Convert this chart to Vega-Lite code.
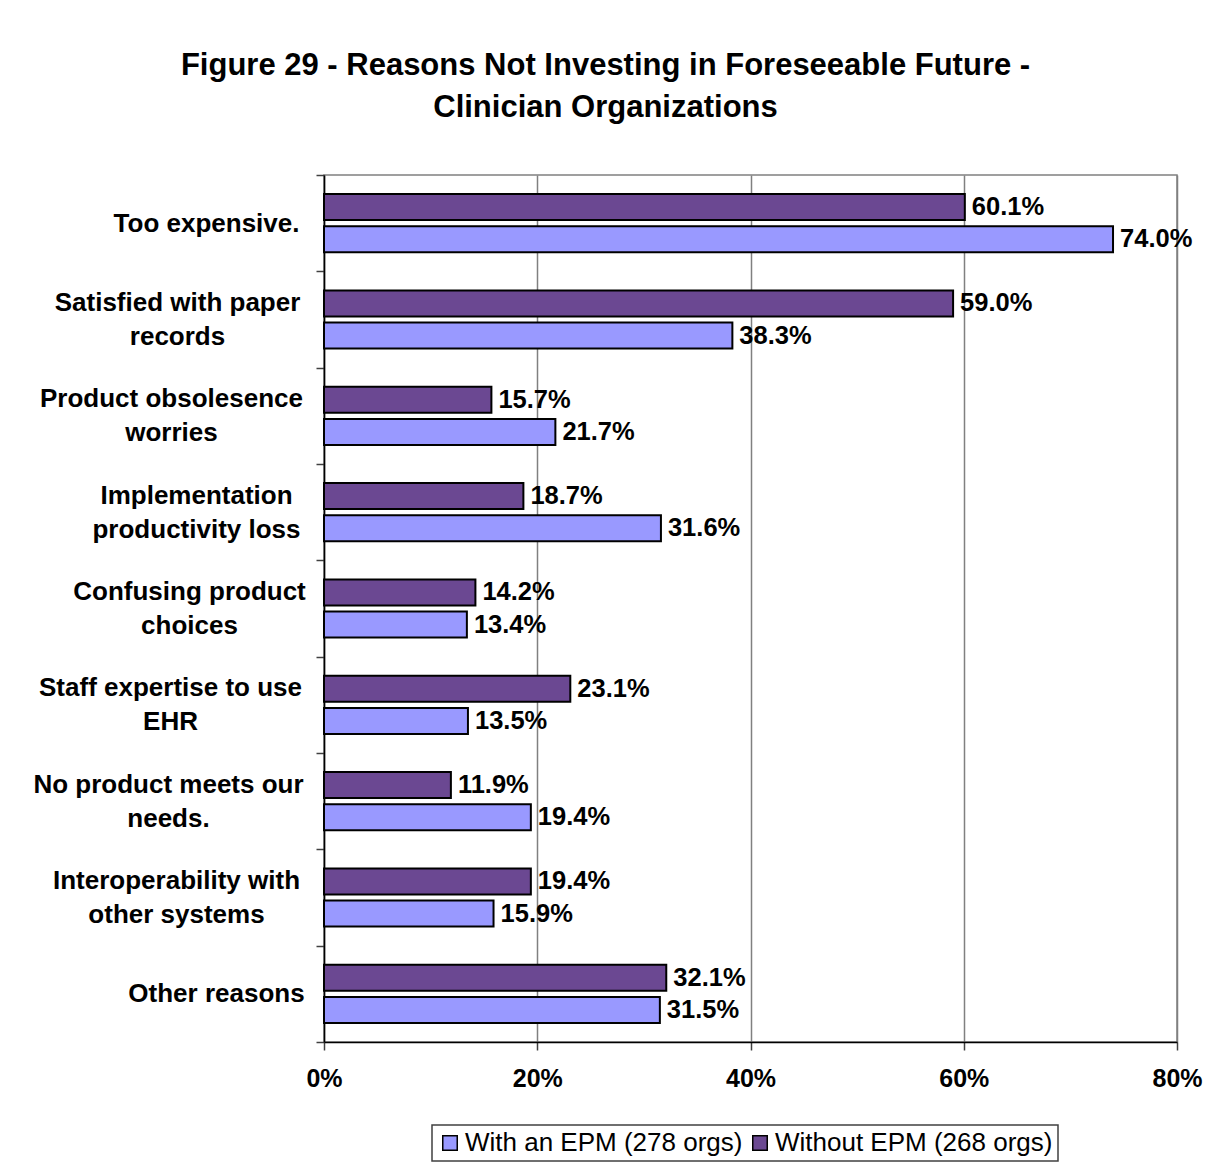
{
  "$schema": "https://vega.github.io/schema/vega-lite/v6.json",
  "autosize": "none",
  "width": 853,
  "height": 867,
  "padding": {"left": 324, "top": 175, "right": 40, "bottom": 131},
  "background": "white",
  "title": {
    "text": ["Figure 29 - Reasons Not Investing in Foreseeable Future -", "Clinician Organizations"],
    "font": "Liberation Sans",
    "fontSize": 31,
    "fontWeight": "bold",
    "color": "black",
    "lineHeight": 42,
    "anchor": "middle",
    "dx": -145,
    "offset": 38
  },
  "config": {
    "font": "Liberation Sans",
    "view": {"stroke": "#808080", "strokeWidth": 1.5},
    "legend": {"strokeColor": "#404040", "strokeWidth": 1.5}
  },
  "data": {
    "values": [
      {"reason": "Too expensive.", "series": "Without EPM (268 orgs)", "value": 0.601},
      {"reason": "Too expensive.", "series": "With an EPM (278 orgs)", "value": 0.740},
      {"reason": "Satisfied with paper records", "series": "Without EPM (268 orgs)", "value": 0.590},
      {"reason": "Satisfied with paper records", "series": "With an EPM (278 orgs)", "value": 0.383},
      {"reason": "Product obsolesence worries", "series": "Without EPM (268 orgs)", "value": 0.157},
      {"reason": "Product obsolesence worries", "series": "With an EPM (278 orgs)", "value": 0.217},
      {"reason": "Implementation productivity loss", "series": "Without EPM (268 orgs)", "value": 0.187},
      {"reason": "Implementation productivity loss", "series": "With an EPM (278 orgs)", "value": 0.316},
      {"reason": "Confusing product choices", "series": "Without EPM (268 orgs)", "value": 0.142},
      {"reason": "Confusing product choices", "series": "With an EPM (278 orgs)", "value": 0.134},
      {"reason": "Staff expertise to use EHR", "series": "Without EPM (268 orgs)", "value": 0.231},
      {"reason": "Staff expertise to use EHR", "series": "With an EPM (278 orgs)", "value": 0.135},
      {"reason": "No product meets our needs.", "series": "Without EPM (268 orgs)", "value": 0.119},
      {"reason": "No product meets our needs.", "series": "With an EPM (278 orgs)", "value": 0.194},
      {"reason": "Interoperability with other systems", "series": "Without EPM (268 orgs)", "value": 0.194},
      {"reason": "Interoperability with other systems", "series": "With an EPM (278 orgs)", "value": 0.159},
      {"reason": "Other reasons", "series": "Without EPM (268 orgs)", "value": 0.321},
      {"reason": "Other reasons", "series": "With an EPM (278 orgs)", "value": 0.315}
    ]
  },
  "encoding": {
    "y": {
      "field": "reason",
      "type": "nominal",
      "sort": null,
      "scale": {"paddingInner": 0, "paddingOuter": 0},
      "axis": {
        "title": null,
        "domainColor": "black",
        "domainWidth": 1.5,
        "tickColor": "#404040",
        "tickWidth": 1.5,
        "tickSize": 8,
        "tickBand": "extent",
        "labelFont": "Liberation Sans",
        "labelFontSize": 26,
        "labelFontWeight": "bold",
        "labelColor": "black",
        "labelLineHeight": 34,
        "labelLimit": 400,
        "labelAlign": "center",
        "labelBaseline": "middle",
        "labelOffset": {
          "condition": {"test": "datum.value != 'Too expensive.' && datum.value != 'Other reasons'", "value": -17},
          "value": 0
        },
        "labelPadding": {
          "condition": [
            {"test": "datum.value == 'Too expensive.'", "value": 110},
            {"test": "datum.value == 'Satisfied with paper records'", "value": 139},
            {"test": "datum.value == 'Product obsolesence worries'", "value": 145},
            {"test": "datum.value == 'Implementation productivity loss'", "value": 120},
            {"test": "datum.value == 'Confusing product choices'", "value": 127},
            {"test": "datum.value == 'Staff expertise to use EHR'", "value": 146},
            {"test": "datum.value == 'No product meets our needs.'", "value": 148},
            {"test": "datum.value == 'Interoperability with other systems'", "value": 140}
          ],
          "value": 100
        },
        "labelExpr": "datum.value == 'Satisfied with paper records' ? ['Satisfied with paper', 'records'] : datum.value == 'Product obsolesence worries' ? ['Product obsolesence', 'worries'] : datum.value == 'Implementation productivity loss' ? ['Implementation', 'productivity loss'] : datum.value == 'Confusing product choices' ? ['Confusing product', 'choices'] : datum.value == 'Staff expertise to use EHR' ? ['Staff expertise to use', 'EHR'] : datum.value == 'No product meets our needs.' ? ['No product meets our', 'needs.'] : datum.value == 'Interoperability with other systems' ? ['Interoperability with', 'other systems'] : datum.label"
      }
    },
    "yOffset": {
      "field": "series",
      "type": "nominal",
      "sort": ["Without EPM (268 orgs)", "With an EPM (278 orgs)"],
      "scale": {"paddingInner": 0.19, "paddingOuter": 0.595}
    },
    "x": {
      "field": "value",
      "type": "quantitative",
      "scale": {"domain": [0, 0.8], "nice": false},
      "axis": {
        "title": null,
        "values": [0, 0.2, 0.4, 0.6, 0.8],
        "format": ".0%",
        "grid": true,
        "gridColor": "#808080",
        "gridWidth": 1.5,
        "domainColor": "black",
        "domainWidth": 1.5,
        "tickColor": "#404040",
        "tickWidth": 1.5,
        "tickSize": 8,
        "labelFont": "Liberation Sans",
        "labelFontSize": 25,
        "labelFontWeight": "bold",
        "labelColor": "black",
        "labelPadding": 16,
        "labelFlush": false
      }
    }
  },
  "layer": [
    {
      "mark": {"type": "bar", "stroke": "black", "strokeWidth": 2},
      "encoding": {
        "color": {
          "field": "series",
          "type": "nominal",
          "scale": {
            "domain": ["With an EPM (278 orgs)", "Without EPM (268 orgs)"],
            "range": ["#9999FF", "#6B4892"]
          },
          "legend": {
            "title": null,
            "orient": "none",
            "legendX": 108,
            "legendY": 950,
            "direction": "horizontal",
            "symbolType": "square",
            "symbolSize": 210,
            "symbolStrokeColor": "black",
            "symbolStrokeWidth": 1.5,
            "labelFont": "Liberation Sans",
            "labelFontSize": 26,
            "labelColor": "black",
            "labelLimit": 400,
            "labelOffset": 2,
            "columnPadding": 4,
            "padding": 5,
            "strokeColor": "#404040",
            "fillColor": "white"
          }
        }
      }
    },
    {
      "mark": {
        "type": "text",
        "align": "left",
        "baseline": "middle",
        "dx": 7,
        "font": "Liberation Sans",
        "fontSize": 25.5,
        "fontWeight": "bold",
        "color": "black"
      },
      "encoding": {
        "text": {"field": "value", "type": "quantitative", "format": ".1%"}
      }
    }
  ]
}
